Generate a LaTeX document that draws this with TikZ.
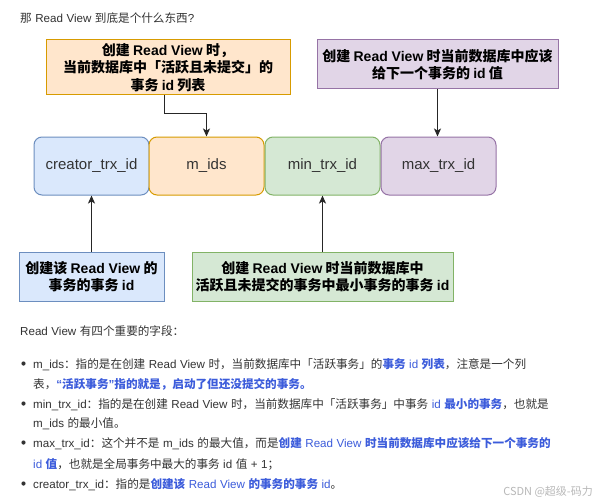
\documentclass[tikz,border=0pt]{standalone}
\usepackage{fontspec}
\setmainfont{Noto Sans CJK SC}
\newfontfamily\labelfont{Liberation Sans}
\usetikzlibrary{arrows.meta}

\definecolor{txtgray}{HTML}{333333}
\definecolor{hlblue}{HTML}{3C5CDB}
\definecolor{orfill}{HTML}{FFE6CC}
\definecolor{ordraw}{HTML}{D79B00}
\definecolor{pufill}{HTML}{E1D5E7}
\definecolor{pudraw}{HTML}{9673A6}
\definecolor{blfill}{HTML}{DAE8FC}
\definecolor{bldraw}{HTML}{6C8EBF}
\definecolor{grfill}{HTML}{D5E8D4}
\definecolor{grdraw}{HTML}{82B366}
\newcommand{\hl}[1]{\textcolor{hlblue}{#1}}
\newcommand{\en}[1]{{\labelfont #1}}
\newcommand{\bodyfont}{\fontsize{11.6}{20}\selectfont\spaceskip=3.5pt\relax}

\begin{document}
\begin{tikzpicture}[
  x=1pt, y=-1pt, >={Stealth[length=8pt, width=7pt, inset=2pt]},
  every node/.style={inner sep=0pt, text=txtgray},
  note/.style={draw, line width=1pt, align=center, minimum height=49pt,
               font=\fontsize{14}{17.5}\selectfont\bfseries, text=black},
  field/.style={draw, line width=1pt, rounded corners=8pt, minimum width=115pt,
                minimum height=58pt, font=\labelfont\fontsize{15}{18}\selectfont},
  body/.style={anchor=base west, font=\bodyfont},
  dot/.style={circle, fill=txtgray, minimum size=4.2pt},
  link/.style={->, line width=1pt, draw=black!85}
]
  \useasboundingbox[fill=white] (0,0) rectangle (596,500);

  \node[body] (title) at (20, 23) {那 \en{Read View} 到底是个什么东西\en{?}};

  \node[note, fill=orfill, draw=ordraw, minimum width=244pt, minimum height=55pt]
    (idsnote) at (168, 67.5) {创建 \en{Read View} 时，\\当前数据库中「活跃且未提交」的\\事务 \en{id} 列表};
  \node[note, fill=pufill, draw=pudraw, minimum width=241pt]
    (maxnote) at (437.5, 64.5) {创建 \en{Read View} 时当前数据库中应该\\给下一个事务的 \en{id} 值};

  \node[field, fill=blfill, draw=bldraw] (creator) at (91.5, 166) {creator\_trx\_id};
  \node[field, fill=orfill, draw=ordraw] (mids) at (206.5, 166) {m\_ids};
  \node[field, fill=grfill, draw=grdraw] (mintrx) at (322.5, 166) {min\_trx\_id};
  \node[field, fill=pufill, draw=pudraw] (maxtrx) at (438.5, 166) {max\_trx\_id};

  \node[note, fill=blfill, draw=bldraw, minimum width=145pt]
    (creatornote) at (91.5, 276.5) {创建该 \en{Read View} 的\\事务的事务 \en{id}};
  \node[note, fill=grfill, draw=grdraw, minimum width=261pt]
    (minnote) at (322.5, 276.5) {创建 \en{Read View} 时当前数据库中\\活跃且未提交的事务中最小事务的事务 \en{id}};

  \draw[link] ([xshift=-4pt]idsnote.south) -- ++(0, 18) -| (mids.north);
  \draw[link] (maxnote.south) -- (maxnote.south |- maxtrx.north);
  \draw[link] (creatornote.north) -- (creator.south);
  \draw[link] (minnote.north) -- (mintrx.south);

  \node[body] (intro) at (20, 335) {\en{Read View} 有四个重要的字段：};

  \node[dot] (dot1) at (23.5, 363.5) {};
  \node[body] (ids1) at (33, 368) {\en{m\_ids}：指的是在创建 \en{Read View} 时，当前数据库中「活跃事务」的\hl{\textbf{事务} \en{id} \textbf{列表}}，注意是一个列};
  \node[body] (ids2) at (33, 388) {表，\hl{{\labelfont\bfseries “}\textbf{活跃事务}{\labelfont\bfseries ”}\textbf{指的就是，启动了但还没提交的事务。}}};
  \node[dot] (dot2) at (23.5, 403.5) {};
  \node[body] (min1) at (33, 408) {\en{min\_trx\_id}：指的是在创建 \en{Read View} 时，当前数据库中「活跃事务」中事务 \hl{\en{id} \textbf{最小的事务}}，也就是};
  \node[body] (min2) at (33, 427) {\en{m\_ids} 的最小值。};
  \node[dot] (dot3) at (23.5, 442.5) {};
  \node[body] (max1) at (33, 447) {\en{max\_trx\_id}：这个并不是 \en{m\_ids} 的最大值，而是\hl{\textbf{创建} \en{Read View} \textbf{时当前数据库中应该给下一个事务的}}};
  \node[body] (max2) at (33, 468) {\hl{\en{id} \textbf{值}}，也就是全局事务中最大的事务 \en{id} 值 \en{+ 1}；};
  \node[dot] (dot4) at (23.5, 483.5) {};
  \node[body] (cre1) at (33, 488) {\en{creator\_trx\_id}：指的是\hl{\textbf{创建该} \en{Read View} \textbf{的事务的事务} \en{id}}。};

  \node[anchor=base east, font=\fontsize{11}{13}\selectfont, text=black!28]
    (mark) at (593, 495) {CSDN @超级-码力};
\end{tikzpicture}
\end{document}
